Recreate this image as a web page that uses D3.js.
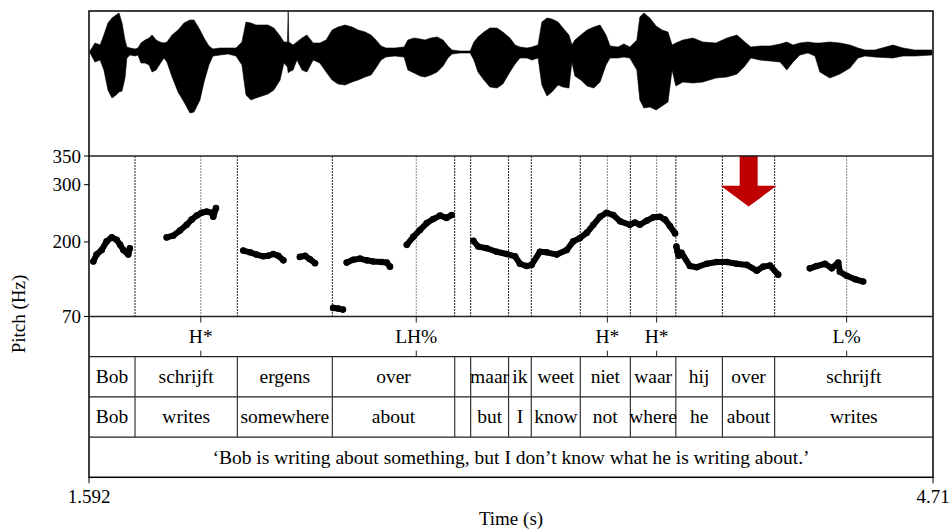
<!DOCTYPE html>
<html>
<head>
<meta charset="utf-8">
<script src="https://cdn.jsdelivr.net/npm/d3@7"></script>
<style>
  body { margin: 0; background: #fff; }
  svg { display: block; font-family: 'Liberation Serif', 'Times New Roman', serif; }
</style>
</head>
<body>
<svg id="chart" width="950" height="529"></svg>
<script>
// time span shown (s)
const timeStart = 1.592;
const timeEnd = 4.71;

// waveform envelope: time (s), upper and lower amplitude
const wavT = [1.596, 1.614, 1.633, 1.647, 1.662, 1.677, 1.692, 1.703, 1.714, 1.725,
  1.732, 1.744, 1.762, 1.773, 1.784, 1.799, 1.814, 1.825, 1.840, 1.854,
  1.869, 1.880, 1.899, 1.921, 1.943, 1.965, 1.980, 2.002, 2.017, 2.035,
  2.050, 2.076, 2.106, 2.135, 2.157, 2.172, 2.190, 2.209, 2.231, 2.253,
  2.275, 2.298, 2.312, 2.325, 2.328, 2.330, 2.346, 2.360, 2.379, 2.397,
  2.420, 2.445, 2.468, 2.490, 2.512, 2.538, 2.564, 2.586, 2.612, 2.634,
  2.652, 2.671, 2.689, 2.722, 2.756, 2.770, 2.793, 2.815, 2.833, 2.855,
  2.878, 2.900, 2.918, 2.933, 2.963, 3.000, 3.014, 3.029, 3.051, 3.073,
  3.099, 3.121, 3.147, 3.166, 3.184, 3.210, 3.228, 3.251, 3.265, 3.284,
  3.302, 3.325, 3.343, 3.365, 3.376, 3.387, 3.409, 3.432, 3.457, 3.480,
  3.502, 3.517, 3.546, 3.568, 3.590, 3.616, 3.627, 3.642, 3.664, 3.687,
  3.709, 3.731, 3.746, 3.760, 3.786, 3.823, 3.860, 3.908, 3.949, 3.986,
  4.015, 4.037, 4.071, 4.108, 4.145, 4.170, 4.193, 4.218, 4.248, 4.274,
  4.292, 4.329, 4.366, 4.403, 4.433, 4.459, 4.495, 4.562, 4.599, 4.643,
  4.706];
const wavTop = [0.01, 0.09, 0.07, 0.17, 0.29, 0.34, 0.37, 0.39, 0.29, 0.12,
  0.05, 0.04, 0.03, 0.04, 0.09, 0.12, 0.14, 0.17, 0.12, 0.10,
  0.09, 0.10, 0.17, 0.22, 0.29, 0.32, 0.32, 0.22, 0.14, 0.06,
  0.03, 0.04, 0.04, 0.04, 0.10, 0.30, 0.29, 0.27, 0.27, 0.27,
  0.24, 0.16, 0.10, 0.10, 0.41, 0.10, 0.07, 0.10, 0.14, 0.17,
  0.09, 0.09, 0.12, 0.22, 0.25, 0.27, 0.25, 0.22, 0.20, 0.17,
  0.12, 0.06, 0.04, 0.04, 0.05, 0.12, 0.14, 0.13, 0.12, 0.14,
  0.15, 0.12, 0.06, 0.02, 0.01, 0.01, 0.10, 0.15, 0.20, 0.24,
  0.24, 0.20, 0.14, 0.07, 0.05, 0.04, 0.05, 0.07, 0.30, 0.34,
  0.33, 0.30, 0.24, 0.17, 0.07, 0.12, 0.17, 0.22, 0.25, 0.27,
  0.17, 0.06, 0.05, 0.08, 0.05, 0.12, 0.35, 0.39, 0.34, 0.26,
  0.22, 0.20, 0.07, 0.09, 0.12, 0.14, 0.10, 0.09, 0.14, 0.17,
  0.10, 0.05, 0.06, 0.06, 0.08, 0.10, 0.07, 0.09, 0.10, 0.09,
  0.09, 0.10, 0.09, 0.07, 0.04, 0.02, 0.02, 0.07, 0.04, 0.02,
  0.02];
const wavBot = [-0.01, -0.10, -0.08, -0.18, -0.38, -0.46, -0.43, -0.40, -0.39, -0.26,
  -0.06, -0.03, -0.04, -0.03, -0.11, -0.11, -0.13, -0.20, -0.18, -0.12,
  -0.06, -0.10, -0.25, -0.40, -0.50, -0.61, -0.60, -0.48, -0.30, -0.13,
  -0.04, -0.03, -0.02, -0.04, -0.13, -0.43, -0.48, -0.46, -0.44, -0.42,
  -0.38, -0.28, -0.11, -0.15, -0.21, -0.20, -0.18, -0.08, -0.18, -0.20,
  -0.08, -0.11, -0.20, -0.28, -0.32, -0.33, -0.30, -0.28, -0.25, -0.23,
  -0.16, -0.08, -0.05, -0.04, -0.05, -0.18, -0.21, -0.24, -0.25, -0.23,
  -0.20, -0.14, -0.06, -0.02, -0.01, -0.01, -0.08, -0.20, -0.28, -0.35,
  -0.36, -0.32, -0.20, -0.12, -0.06, -0.06, -0.08, -0.06, -0.33, -0.44,
  -0.40, -0.33, -0.35, -0.36, -0.10, -0.24, -0.28, -0.34, -0.36, -0.30,
  -0.13, -0.06, -0.06, -0.05, -0.06, -0.18, -0.48, -0.56, -0.55, -0.58,
  -0.54, -0.50, -0.18, -0.34, -0.30, -0.31, -0.30, -0.26, -0.25, -0.22,
  -0.14, -0.06, -0.08, -0.09, -0.10, -0.18, -0.10, -0.03, -0.01, -0.04,
  -0.20, -0.26, -0.22, -0.16, -0.06, -0.04, -0.05, -0.06, -0.04, -0.04,
  -0.03];

// pitch track (Hz), null = unvoiced gap
const pitchT = [1.608, 1.620, 1.639, 1.657, 1.676, 1.694, 1.707, 1.719, 1.737, 1.743, null,
  1.879, 1.903, 1.928, 1.953, 1.971, 1.990, 2.008, 2.027, 2.045, 2.051, 2.061, null,
  2.162, 2.187, 2.211, 2.236, 2.254, 2.273, 2.291, 2.310, null,
  2.371, 2.390, 2.408, 2.427, null,
  2.494, 2.512, 2.530, null,
  2.544, 2.568, 2.593, 2.618, 2.642, 2.673, 2.692, 2.704, null,
  2.766, 2.790, 2.815, 2.840, 2.864, 2.889, 2.913, 2.932, null,
  3.012, 3.030, 3.061, 3.098, 3.135, 3.166, 3.184, 3.209, 3.227, 3.258,
  3.283, 3.320, 3.357, 3.381, 3.406, 3.431, 3.455, 3.480, 3.504, 3.529,
  3.554, 3.590, 3.609, 3.627, 3.652, 3.677, 3.701, 3.720, 3.738, 3.757, null,
  3.762, 3.766, 3.770, 3.781, 3.812, 3.837, 3.874, 3.911, 3.948, 3.985,
  4.022, 4.059, 4.083, 4.108, 4.138, null,
  4.255, 4.280, 4.311, 4.336, 4.360, 4.366, 4.391, 4.422, 4.452];
const pitchF = [166, 178, 186, 201, 208, 204, 195, 186, 178, 189, null,
  208, 211, 220, 230, 239, 246, 251, 253, 251, 244, 259, null,
  185, 182, 178, 175, 176, 179, 176, 168, null,
  174, 176, 170, 163, null,
  85, 84, 82, null,
  164, 169, 171, 168, 166, 165, 164, 157, null,
  195, 209, 221, 233, 240, 246, 242, 247, null,
  202, 192, 189, 183, 179, 175, 162, 158, 160, 183,
  182, 178, 186, 201, 207, 216, 230, 244, 251, 247,
  236, 230, 234, 230, 237, 243, 244, 239, 228, 215, null,
  192, 184, 176, 181, 158, 156, 162, 165, 165, 162,
  160, 150, 157, 159, 143, null,
  154, 158, 162, 154, 164, 148, 141, 135, 131];
const pitchTicks = [70, 200, 300, 350];

// annotation tiers
const wordBounds = [1.762, 2.140, 2.491, 2.943, 3.002, 3.142, 3.226, 3.407, 3.592, 3.760, 3.932, 4.125];
const words = ['Bob', 'schrijft', 'ergens', 'over', '', 'maar', 'ik', 'weet', 'niet', 'waar', 'hij', 'over', 'schrijft'];
const glosses = ['Bob', 'writes', 'somewhere', 'about', '', 'but', 'I', 'know', 'not', 'where', 'he', 'about', 'writes'];
const toneTimes = [2.005, 2.801, 3.507, 3.689, 4.391];
const toneLabels = ['H*', 'LH%', 'H*', 'H*', 'L%'];
const translation = '\u2018Bob is writing about something, but I don\u2019t know what he is writing about.\u2019';

// red arrow over the focus word (time, Hz)
const arrowTime = 4.029;
const arrowHz = [351, 298, 262];

const svg = d3.select('#chart');
const left = 89, right = 933;
const wavTopY = 11, pitchTopY = 156, pitchBotY = 316.5;
const tierH = 40.2;
const tierTops = [316.5, 356.7, 396.9, 437.1];
const bottomY = 477.3;

const x = d3.scaleLinear().domain([timeStart, timeEnd]).range([left, right]);
const amp = d3.scaleLinear().domain([-1.04, 0.41]).range([pitchTopY, wavTopY]);
const y = d3.scaleLinear().domain([70, 350]).range([pitchBotY, pitchTopY]);

// waveform
const wav = wavT.map((t, i) => ({t: t, hi: wavTop[i], lo: wavBot[i]}));
svg.append('path')
  .datum(wav)
  .attr('fill', '#000')
  .attr('stroke', '#000')
  .attr('stroke-width', 0.6)
  .attr('d', d3.area()
    .x(d => x(d.t))
    .y0(d => amp(d.lo))
    .y1(d => amp(d.hi)));

// dotted boundary lines in the pitch panel
svg.append('g').selectAll('line')
  .data(wordBounds)
  .join('line')
  .attr('x1', d => x(d)).attr('x2', d => x(d))
  .attr('y1', pitchTopY).attr('y2', pitchBotY)
  .attr('stroke', '#222')
  .attr('stroke-width', 1)
  .attr('stroke-dasharray', '2,1');

svg.append('g').selectAll('line')
  .data(toneTimes)
  .join('line')
  .attr('x1', d => x(d)).attr('x2', d => x(d))
  .attr('y1', pitchTopY).attr('y2', pitchBotY)
  .attr('stroke', '#888')
  .attr('stroke-width', 1)
  .attr('stroke-dasharray', '2,1');

// pitch contour
const pitch = pitchT.map((t, i) => ({t: t, f: pitchF[i]}));
svg.append('path')
  .datum(pitch)
  .attr('fill', 'none')
  .attr('stroke', '#000')
  .attr('stroke-width', 6)
  .attr('stroke-linecap', 'round')
  .attr('stroke-linejoin', 'round')
  .attr('d', d3.line()
    .defined(d => d.f != null)
    .x(d => x(d.t))
    .y(d => y(d.f)));

svg.append('g').selectAll('circle')
  .data(pitch.filter(d => d.f != null))
  .join('circle')
  .attr('cx', d => x(d.t))
  .attr('cy', d => y(d.f))
  .attr('r', 3.3)
  .attr('fill', '#000');

// red arrow
const ax = x(arrowTime);
svg.append('polygon')
  .attr('fill', '#c00000')
  .attr('points', [
    [ax - 9, y(arrowHz[0])], [ax + 9, y(arrowHz[0])],
    [ax + 9, y(arrowHz[1])], [ax + 28, y(arrowHz[1])],
    [ax, y(arrowHz[2])],
    [ax - 28, y(arrowHz[1])], [ax - 9, y(arrowHz[1])]
  ].map(p => p.join(',')).join(' '));

// frame and panel separators
svg.append('rect')
  .attr('x', left).attr('y', wavTopY)
  .attr('width', right - left).attr('height', bottomY - wavTopY)
  .attr('fill', 'none')
  .attr('stroke', '#000')
  .attr('stroke-width', 1.5);

svg.append('g').selectAll('line')
  .data([pitchTopY, ...tierTops])
  .join('line')
  .attr('x1', left).attr('x2', right)
  .attr('y1', d => d).attr('y2', d => d)
  .attr('stroke', '#222')
  .attr('stroke-width', d => d === pitchTopY || d === pitchBotY ? 1.5 : 1.2);

// pitch axis
const yAxis = svg.append('g');
yAxis.selectAll('line')
  .data(pitchTicks)
  .join('line')
  .attr('x1', left - 5).attr('x2', left)
  .attr('y1', d => y(d)).attr('y2', d => y(d))
  .attr('stroke', '#000');
yAxis.selectAll('text')
  .data(pitchTicks)
  .join('text')
  .attr('x', left - 8)
  .attr('y', d => y(d) + 6.5)
  .attr('text-anchor', 'end')
  .attr('font-size', 19)
  .text(d => d);

svg.append('text')
  .attr('transform', 'translate(25,314) rotate(-90)')
  .attr('text-anchor', 'middle')
  .attr('font-size', 19)
  .text('Pitch (Hz)');

// tone tier
const tones = svg.append('g');
toneTimes.forEach((t, i) => {
  tones.append('line')
    .attr('x1', x(t)).attr('x2', x(t))
    .attr('y1', tierTops[0]).attr('y2', tierTops[0] + 6)
    .attr('stroke', '#222');
  tones.append('line')
    .attr('x1', x(t)).attr('x2', x(t))
    .attr('y1', tierTops[1] - 6).attr('y2', tierTops[1])
    .attr('stroke', '#222');
  tones.append('text')
    .attr('x', x(t))
    .attr('y', tierTops[0] + 26.5)
    .attr('text-anchor', 'middle')
    .attr('font-size', 19.5)
    .text(toneLabels[i]);
});

// interval tiers
const edges = [timeStart, ...wordBounds, timeEnd];
function intervalTier(top, labels) {
  const g = svg.append('g');
  g.selectAll('line')
    .data(wordBounds)
    .join('line')
    .attr('x1', d => x(d)).attr('x2', d => x(d))
    .attr('y1', top).attr('y2', top + tierH)
    .attr('stroke', '#333')
    .attr('stroke-width', 1.2);
  g.selectAll('text')
    .data(labels)
    .join('text')
    .attr('x', (d, i) => (x(edges[i]) + x(edges[i + 1])) / 2)
    .attr('y', top + 26.5)
    .attr('text-anchor', 'middle')
    .attr('font-size', 19.5)
    .text(d => d);
}
intervalTier(tierTops[1], words);
intervalTier(tierTops[2], glosses);

svg.append('text')
  .attr('x', (x(timeStart) + x(timeEnd)) / 2)
  .attr('y', tierTops[3] + 26.5)
  .attr('text-anchor', 'middle')
  .attr('font-size', 19.5)
  .text(translation);

// time axis: only the start and end are marked
const tAxis = svg.append('g');
tAxis.selectAll('line')
  .data([timeStart, timeEnd])
  .join('line')
  .attr('x1', d => x(d)).attr('x2', d => x(d))
  .attr('y1', bottomY).attr('y2', bottomY + 6)
  .attr('stroke', '#000');
tAxis.selectAll('text')
  .data([timeStart, timeEnd])
  .join('text')
  .attr('x', d => x(d))
  .attr('y', 503)
  .attr('text-anchor', 'middle')
  .attr('font-size', 19)
  .text(d => d);

svg.append('text')
  .attr('x', (x(timeStart) + x(timeEnd)) / 2)
  .attr('y', 525)
  .attr('text-anchor', 'middle')
  .attr('font-size', 19)
  .text('Time (s)');
</script>
</body>
</html>
